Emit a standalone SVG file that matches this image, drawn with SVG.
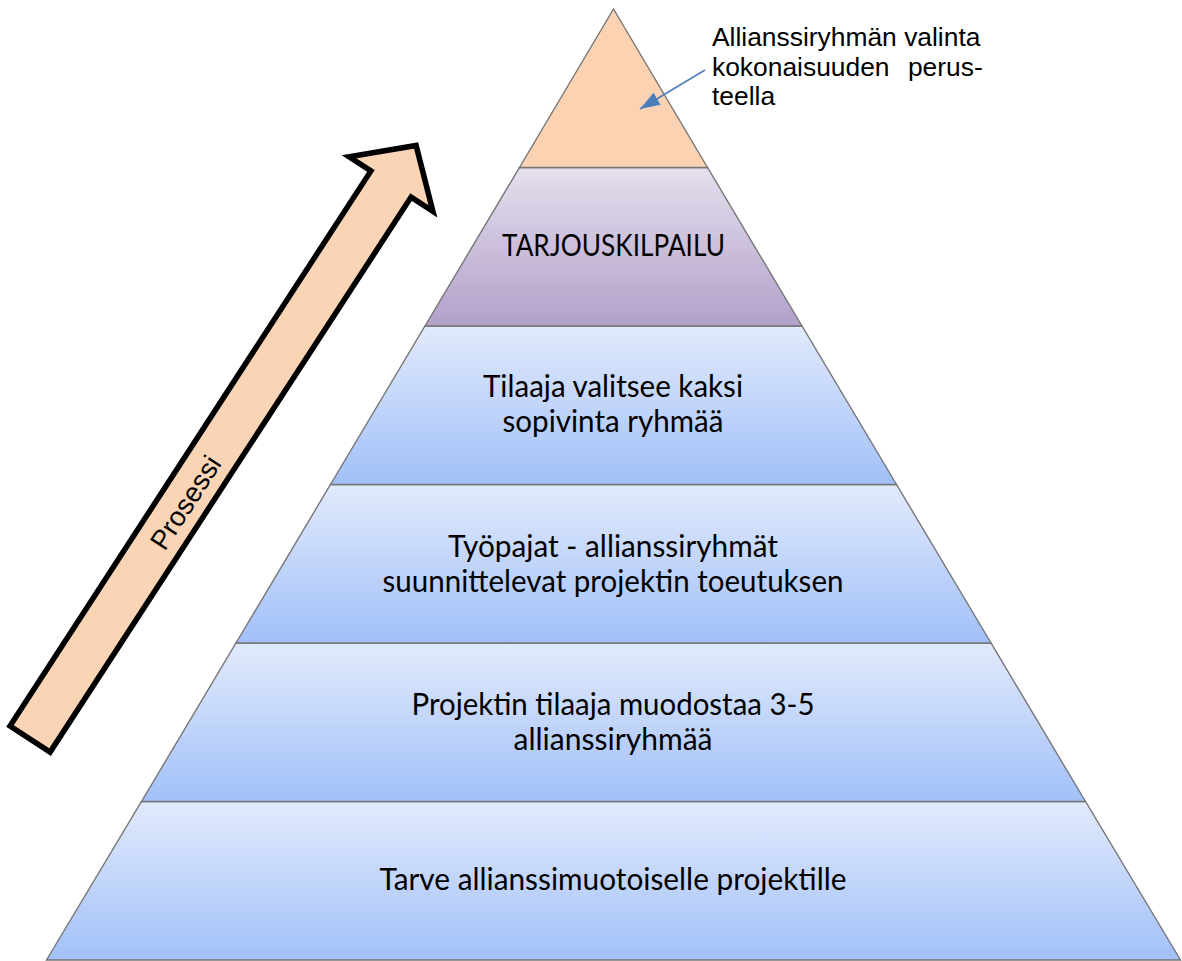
<svg xmlns="http://www.w3.org/2000/svg" width="1182" height="961" viewBox="0 0 1182 961">
  <style>
    .layer { stroke: #767676; stroke-width: 1.4; }
    .pt { font-family: Lato, "Open Sans", sans-serif; font-size: 30px; fill: #000; text-anchor: middle; }
    .lbl { font-family: "Liberation Sans", Arial, sans-serif; font-size: 26.4px; fill: #000; }
  </style>
  <defs>
    <linearGradient id="gBlue" x1="0" y1="0" x2="0" y2="1">
      <stop offset="0" stop-color="#E1EAFC"/>
      <stop offset="1" stop-color="#A2C0F8"/>
    </linearGradient>
    <linearGradient id="gPurple" x1="0" y1="0" x2="0" y2="1">
      <stop offset="0" stop-color="#E5DFED"/>
      <stop offset="1" stop-color="#B2A0CA"/>
    </linearGradient>
    <marker id="ah" viewBox="0 0 20 14" refX="20" refY="7" markerWidth="20" markerHeight="14" markerUnits="userSpaceOnUse" orient="auto">
      <path d="M0,0 L20,7 L0,14 z" fill="#4A7EBB"/>
    </marker>
  </defs>

  <rect x="0" y="0" width="1182" height="961" fill="#FFFFFF"/>

  <!-- Pyramid layers -->
  <g id="layer1-bottom">
    <polygon class="layer" points="141.5,801.5 1085.5,801.5 1180.5,960 46.5,960" fill="url(#gBlue)"/>
    <text class="pt" x="613" y="890" textLength="467" lengthAdjust="spacingAndGlyphs">Tarve allianssimuotoiselle projektille</text>
  </g>
  <g id="layer2">
    <polygon class="layer" points="236,643 991,643 1085.5,801.5 141.5,801.5" fill="url(#gBlue)"/>
    <text class="pt" x="613" y="715" textLength="403" lengthAdjust="spacingAndGlyphs">Projektin tilaaja muodostaa 3-5</text>
    <text class="pt" x="613" y="750" textLength="199" lengthAdjust="spacingAndGlyphs">allianssiryhmää</text>
  </g>
  <g id="layer3">
    <polygon class="layer" points="330.5,484.5 896.5,484.5 991,643 236,643" fill="url(#gBlue)"/>
    <text class="pt" x="613" y="556.5" textLength="330" lengthAdjust="spacingAndGlyphs">Työpajat - allianssiryhmät</text>
    <text class="pt" x="613" y="591.5" textLength="461" lengthAdjust="spacingAndGlyphs">suunnittelevat projektin toeutuksen</text>
  </g>
  <g id="layer4">
    <polygon class="layer" points="425,326 802,326 896.5,484.5 330.5,484.5" fill="url(#gBlue)"/>
    <text class="pt" x="613" y="397" textLength="260" lengthAdjust="spacingAndGlyphs">Tilaaja valitsee kaksi</text>
    <text class="pt" x="613" y="432" textLength="221" lengthAdjust="spacingAndGlyphs">sopivinta ryhmää</text>
  </g>
  <g id="layer5">
    <polygon class="layer" points="519.5,167.5 707.5,167.5 802,326 425,326" fill="url(#gPurple)"/>
    <text class="pt" x="613.5" y="256" textLength="223" lengthAdjust="spacingAndGlyphs">TARJOUSKILPAILU</text>
  </g>
  <g id="layer6-top">
    <polygon class="layer" points="613.5,9 707.5,167.5 519.5,167.5" fill="#FBD3B3"/>
  </g>

  <!-- Callout label -->
  <g id="callout-label">
    <text class="lbl" x="712" y="46">Allianssiryhmän valinta</text>
    <text class="lbl" x="712" y="75.5" word-spacing="11">kokonaisuuden perus-</text>
    <text class="lbl" x="712" y="105">teella</text>
  </g>

  <!-- Process arrow -->
  <g id="process-arrow">
    <polygon points="10,726 370.9,170.9 349.1,156.8 416.1,145.5 432.9,211.3 411.1,197.1 50.1,752.1" fill="#FAD5B5" stroke="#000" stroke-width="5.5" stroke-linejoin="miter"/>
    <text transform="translate(186,503) rotate(-57)" x="0" y="9" font-family="Liberation Sans, Arial, sans-serif" font-size="27.5" text-anchor="middle" fill="#000">Prosessi</text>
  </g>

  <!-- Connectors -->
  <g id="connectors">
    <line x1="705" y1="70" x2="640" y2="109" stroke="#4A7EBB" stroke-width="1.5" marker-end="url(#ah)"/>
  </g>
</svg>
